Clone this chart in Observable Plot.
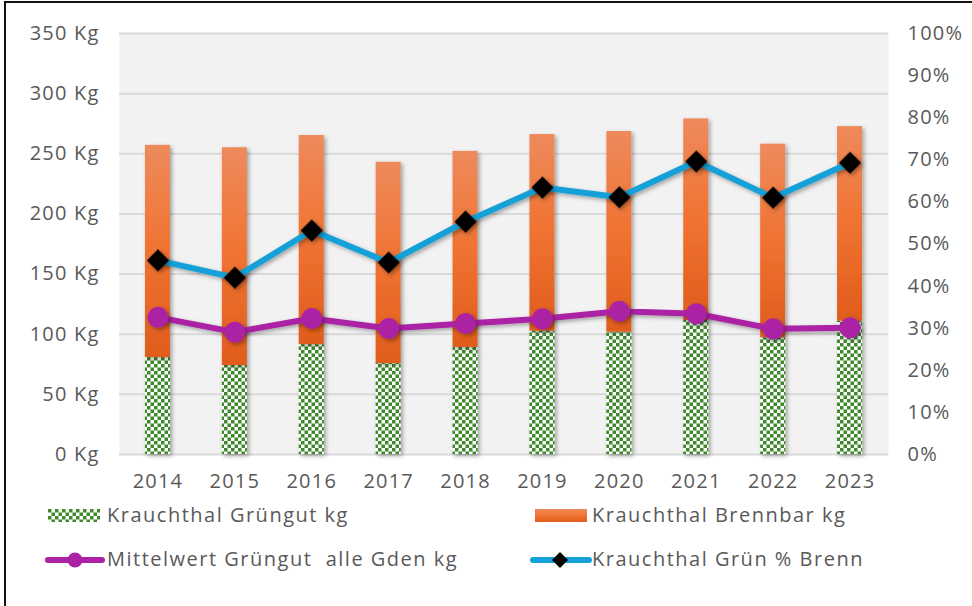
<!DOCTYPE html>
<html>
<head>
<meta charset="utf-8">
<script src="https://cdn.jsdelivr.net/npm/d3@7"></script>
<script src="https://cdn.jsdelivr.net/npm/@observablehq/plot@0.6"></script>
<style>
  html, body { margin: 0; padding: 0; background: #fff; overflow: hidden; }
  #wrap { position: relative; width: 972px; height: 606px; font-family: "Open Sans", sans-serif; color: #595959; }
  #frame { position: absolute; left: 4px; top: 1px; width: 990px; height: 640px; border: 2px solid #111; box-sizing: border-box; pointer-events: none; }
  #chart svg text { letter-spacing: 1.2px; }
  .leg { position: absolute; font-size: 20px; line-height: 24px; letter-spacing: 1.5px; white-space: pre; color: #595959; }
  .sw { position: absolute; }
</style>
</head>
<body>
<div id="wrap">
  <div id="chart"></div>
  <div id="legend"></div>
  <div id="frame"></div>
</div>
<script>
// ---- data ----
const years = ["2014","2015","2016","2017","2018","2019","2020","2021","2022","2023"];
const gruengut = [80.6, 74.0, 91.4, 75.6, 89.0, 102.5, 101.7, 111.4, 97.0, 110.8];     // kg
const brennbar = [176.4, 181.0, 173.8, 167.4, 163.0, 163.5, 166.8, 167.6, 161.0, 161.8]; // kg
const mittelwert = [114.0, 101.7, 113.0, 104.7, 109.0, 112.8, 119.0, 117.0, 104.5, 105.3]; // kg
const gruenProzent = [46.1, 42.0, 53.2, 45.6, 55.3, 63.4, 61.1, 69.6, 61.0, 69.3];      // %
const kgTicks = [0, 50, 100, 150, 200, 250, 300, 350];
const pctTicks = [0, 10, 20, 30, 40, 50, 60, 70, 80, 90, 100];
const seriesNames = ["Krauchthal Grüngut kg", "Krauchthal Brennbar kg", "Mittelwert Grüngut  alle Gden kg", "Krauchthal Grün % Brenn"];

const kgMax = 350;           // left axis max
const pctScale = kgMax / 100; // 100 % maps to 350 kg on the shared y scale

const rows = years.map((y, i) => ({
  year: y,
  gruen: gruengut[i],
  brenn: brennbar[i],
  total: gruengut[i] + brennbar[i],
  mittel: mittelwert[i],
  pct: gruenProzent[i] * pctScale
}));

const textColor = "#595959";
const purple = "#ab22a4";
const blue = "#15a0d8";

const chart = Plot.plot({
  width: 972,
  height: 500,
  marginTop: 33,
  marginBottom: 46,
  marginLeft: 119,
  marginRight: 84,
  style: { fontFamily: "Open Sans, sans-serif", fontSize: "20px", color: textColor, background: "transparent", overflow: "visible" },
  x: { domain: years, paddingInner: 0.675, paddingOuter: 0.3375, round: false, label: null },
  y: { domain: [0, kgMax], label: null },
  marks: [
    Plot.frame({ fill: "#f2f2f2", stroke: null }),
    Plot.gridY(kgTicks, { stroke: "#d9d9d9", strokeOpacity: 1, strokeWidth: 2 }),
    Plot.axisY(kgTicks, { anchor: "left", tickSize: 0, tickPadding: 20, tickFormat: d => d + " Kg", fill: textColor, fontSize: 20, label: null }),
    Plot.axisY(pctTicks.map(p => p * pctScale), { anchor: "right", tickSize: 0, tickPadding: 19, tickFormat: d => Math.round(d / pctScale) + "%", fill: textColor, fontSize: 20, textAnchor: "start", label: null }),
    Plot.axisX({ tickSize: 0, tickPadding: 19, fill: textColor, fontSize: 20, label: null }),
    Plot.barY(rows, { x: "year", y1: 0, y2: "gruen", fill: "url(#checker)", insetLeft: 0, insetRight: 0 }),
    Plot.barY(rows, { x: "year", y1: "gruen", y2: "total", fill: "url(#orangeGrad)", insetLeft: 0, insetRight: 0 }),
    Plot.line(rows, { x: "year", y: "mittel", stroke: purple, strokeWidth: 6 }),
    Plot.dot(rows, { x: "year", y: "mittel", r: 10.5, fill: purple, stroke: null }),
    Plot.line(rows, { x: "year", y: "pct", stroke: blue, strokeWidth: 6 }),
    Plot.dot(rows, { x: "year", y: "pct", r: 10, symbol: "diamond2", fill: "#000", stroke: null })
  ]
});

document.getElementById("chart").appendChild(chart);

// defs: checker pattern, orange gradient, drop shadow
const svg = d3.select(chart);
const defs = svg.insert("defs", ":first-child");
const pat = defs.append("pattern").attr("id", "checker").attr("patternUnits", "userSpaceOnUse")
  .attr("width", 7).attr("height", 7);
pat.append("rect").attr("width", 7).attr("height", 7).attr("fill", "#ffffff");
pat.append("rect").attr("x", 0).attr("y", 0).attr("width", 3.5).attr("height", 3.5).attr("fill", "#3d8a29");
pat.append("rect").attr("x", 3.5).attr("y", 3.5).attr("width", 3.5).attr("height", 3.5).attr("fill", "#3d8a29");

const grad = defs.append("linearGradient").attr("id", "orangeGrad").attr("x1", 0).attr("y1", 0).attr("x2", 0).attr("y2", 1);
grad.append("stop").attr("offset", "0%").attr("stop-color", "#ee8a5c");
grad.append("stop").attr("offset", "50%").attr("stop-color", "#f07332");
grad.append("stop").attr("offset", "100%").attr("stop-color", "#e05c1c");

const f = defs.append("filter").attr("id", "shadow").attr("x", "-30%").attr("y", "-10%").attr("width", "160%").attr("height", "130%");
f.append("feDropShadow").attr("dx", 2).attr("dy", 2).attr("stdDeviation", 2.2).attr("flood-color", "#000").attr("flood-opacity", 0.35);

svg.selectAll('g[aria-label="bar"], g[aria-label="line"], g[aria-label="dot"]').attr("filter", "url(#shadow)");

// legend
const legend = document.getElementById("legend");
function swatch(x, y, w, h, inner) {
  const s = document.createElementNS("http://www.w3.org/2000/svg", "svg");
  s.setAttribute("class", "sw");
  s.setAttribute("width", w); s.setAttribute("height", h);
  s.style.left = x + "px"; s.style.top = y + "px";
  s.innerHTML = inner;
  legend.appendChild(s);
}
function label(x, y, txt) {
  const d = document.createElement("div");
  d.className = "leg"; d.style.left = x + "px"; d.style.top = y + "px";
  d.textContent = txt; legend.appendChild(d);
}
swatch(48, 509, 52, 13, '<rect width="52" height="13" fill="url(#checker)"/>');
label(107, 503, seriesNames[0]);
swatch(535, 509, 52, 13, '<rect width="52" height="13" fill="url(#orangeGrad)"/>');
label(592, 503, seriesNames[1]);
swatch(44, 548, 62, 24, `<line x1="4" y1="12" x2="58" y2="12" stroke="${purple}" stroke-width="6" stroke-linecap="round"/><circle cx="31" cy="12" r="7.5" fill="${purple}"/>`);
label(107, 547, seriesNames[2]);
swatch(529, 548, 64, 24, `<line x1="4" y1="12" x2="60" y2="12" stroke="${blue}" stroke-width="6" stroke-linecap="round"/><path d="M31 4 L39 12 L31 20 L23 12 Z" fill="#000"/>`);
label(592, 547, seriesNames[3]);
</script>
</body>
</html>
